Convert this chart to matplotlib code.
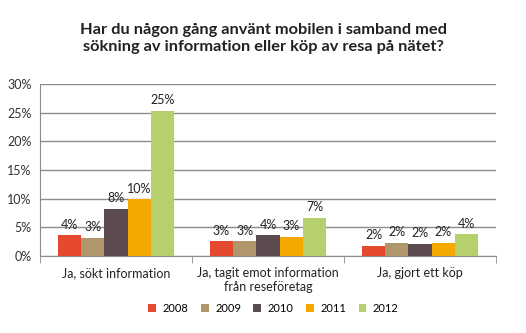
import matplotlib
matplotlib.use("Agg")
import matplotlib.pyplot as plt
import numpy as np

plt.rcParams['font.family'] = ['Lato', 'DejaVu Sans']

categories = ["Ja, sökt information", "Ja, tagit emot information\nfrån reseföretag", "Ja, gjort ett köp"]
years = ["2008", "2009", "2010", "2011", "2012"]
values = {
    "2008": [3.6, 2.6, 1.8],
    "2009": [3.2, 2.6, 2.3],
    "2010": [8.2, 3.6, 2.1],
    "2011": [9.9, 3.4, 2.3],
    "2012": [25.3, 6.7, 3.8],
}
colors = ["#E64A2E", "#B0976B", "#5B4B4E", "#F5A800", "#B7D06E"]

fig = plt.figure(figsize=(5.26, 3.33), dpi=100)
ax = fig.add_axes([0.076, 0.231, 0.867, 0.517])

x = np.arange(len(categories))
width = 0.153
for i, (yr, c) in enumerate(zip(years, colors)):
    pos = x + (i - 2) * width
    bars = ax.bar(pos, values[yr], width, color=c, label=yr, zorder=3)
    for b, v in zip(bars, values[yr]):
        ax.text(b.get_x() + b.get_width() / 2, v + 0.8, f"{v:.0f}%",
                ha='center', va='bottom', fontsize=9, color='#222222')

ax.set_xlim(-0.5, len(categories) - 0.5)
ax.set_ylim(0, 30)
ax.set_yticks(range(0, 31, 5))
ax.set_yticklabels([f"{t}%" for t in range(0, 31, 5)], fontsize=9, color='#333333')
ax.yaxis.grid(True, color='#8c8c8c', linewidth=1, zorder=0)
ax.tick_params(axis='y', length=0, pad=6)

ax.set_xticks([-0.5, 0.5, 1.5, 2.5], minor=True)
ax.set_xticks(x)
ax.set_xticklabels(categories, fontsize=9, color='#222222')
ax.tick_params(axis='x', which='major', length=0, pad=8)
ax.tick_params(axis='x', which='minor', length=5, color='#8c8c8c', direction='out')

for s in ['top', 'right']:
    ax.spines[s].set_visible(False)
ax.spines['left'].set_color('#8c8c8c')
ax.spines['bottom'].set_color('#8c8c8c')

fig.text(0.5, 0.885,
         "Har du någon gång använt mobilen i samband med\nsökning av information eller köp av resa på nätet?",
         ha='center', va='center', fontsize=11.8, fontweight='bold', color='#222222', linespacing=1.25)

fig.legend(loc='center', bbox_to_anchor=(0.52, 0.075), ncol=5, frameon=False,
           fontsize=8, handlelength=0.7, handleheight=0.7, columnspacing=1.1, handletextpad=0.6)

fig.savefig("out.png", dpi=100)
